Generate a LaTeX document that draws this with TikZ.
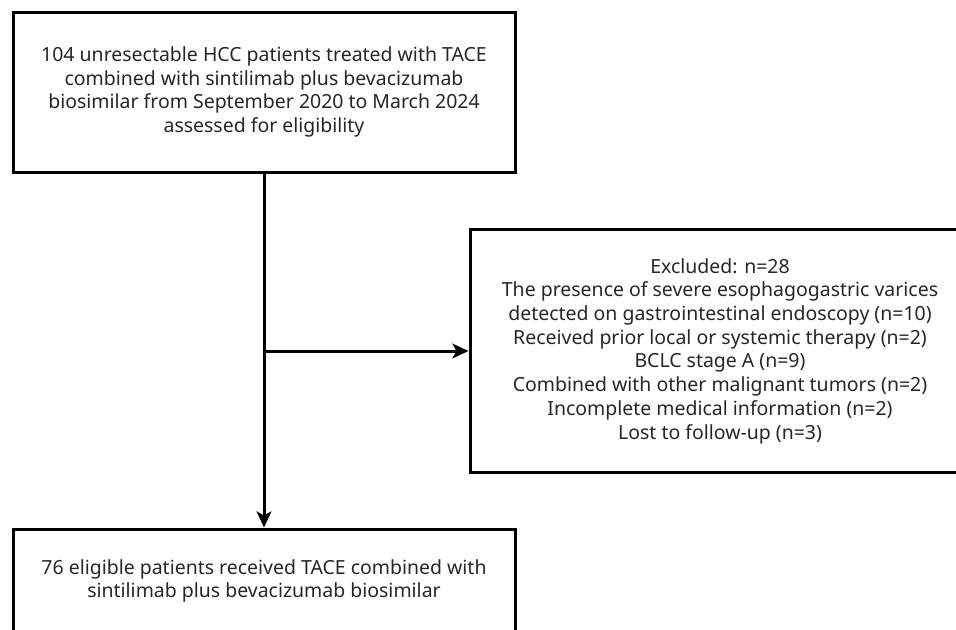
\documentclass[tikz,border=0pt]{standalone}
\usepackage{fontspec}
\setmainfont{Noto Sans}
\usepackage{xcolor}
\usetikzlibrary{arrows.meta,positioning}
\definecolor{flowline}{HTML}{000000}
\definecolor{flowtext}{HTML}{262626}

\begin{document}
\begin{tikzpicture}[x=0.75pt,y=-0.75pt,
  flowbox/.style={draw=flowline,line width=2.25pt,inner sep=0pt,align=center,
    text=flowtext,font=\fontsize{14.6pt}{17.8pt}\selectfont},
  flowarrow/.style={draw=flowline,line width=2.25pt,
    -{Stealth[length=12pt,width=11pt,inset=3pt]}}]
  \useasboundingbox (0,0) rectangle (956,629);
  % screening, exclusion and final cohort
  \node[flowbox,minimum width=376.5pt,minimum height=120pt] (screened) at (264,92)
    {104 unresectable HCC patients treated with TACE\\
     combined with sintilimab plus bevacizumab\\
     biosimilar from September 2020 to March 2024\\
     assessed for eligibility};
  \node[flowbox,minimum width=375pt,minimum height=182pt] (excluded) at (720,351)
    {Excluded: n=28\\
     The presence of severe esophagogastric varices\\
     detected on gastrointestinal endoscopy (n=10)\\
     Received prior local or systemic therapy (n=2)\\
     BCLC stage A (n=9)\\
     Combined with other malignant tumors (n=2)\\
     Incomplete medical information (n=2)\\
     Lost to follow-up (n=3)};
  \node[flowbox,minimum width=376.5pt,minimum height=78pt] (eligible) at (264,581)
    {76 eligible patients received TACE combined with\\
     sintilimab plus bevacizumab biosimilar};
  \coordinate (split) at (screened.south |- excluded.west);
  \draw[flowarrow] (screened.south) -- (eligible.north);
  \draw[flowarrow] (split) -- (excluded.west);
\end{tikzpicture}
\end{document}
